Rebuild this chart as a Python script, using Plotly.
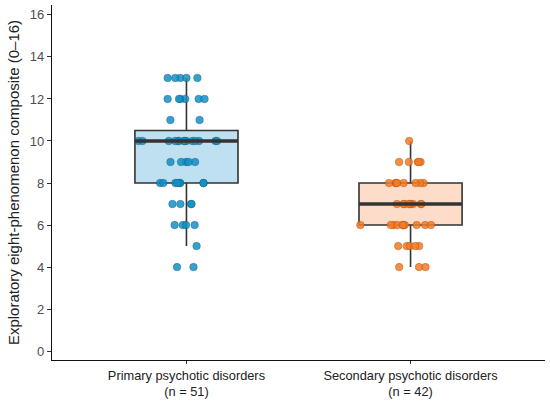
import numpy as np
import plotly.graph_objects as go

# composite scores, as value -> count
groups = ["Primary psychotic disorders", "Secondary psychotic disorders"]
group_n = [51, 42]
primary_scores = [4, 5, 6, 7, 8, 9, 10, 11, 12, 13]
primary_counts = [2, 1, 4, 4, 8, 5, 14, 2, 6, 5]
secondary_scores = [4, 5, 6, 7, 8, 9, 10]
secondary_counts = [3, 5, 11, 9, 8, 5, 1]

y_ticks = [0, 2, 4, 6, 8, 10, 12, 14, 16]

point_colors = ["#1390C6", "#F47C26"]
edge_colors = ["#0B5F85", "#B5520E"]
box_fills = ["#BEE0F0", "#FDDDCA"]

primary = np.repeat(primary_scores, primary_counts)
secondary = np.repeat(secondary_scores, secondary_counts)
data = [primary, secondary]

box_w = 0.46
fig = go.Figure()

for i, vals in enumerate(data):
    # ggplot-style stats (type 7 quantiles, whiskers to 1.5*IQR)
    q1, med, q3 = np.percentile(vals, [25, 50, 75])
    iqr = q3 - q1
    lo = vals[vals >= q1 - 1.5 * iqr].min()
    hi = vals[vals <= q3 + 1.5 * iqr].max()
    fig.add_trace(go.Box(
        x=[i], q1=[q1], median=[med], q3=[q3],
        lowerfence=[lo], upperfence=[hi], width=box_w,
        whiskerwidth=0, boxpoints=False,
        fillcolor=box_fills[i],
        line=dict(color="#333333", width=1.6),
        showlegend=False, hoverinfo="skip"))
    # thicker median line like ggplot
    fig.add_trace(go.Scatter(
        x=[i - box_w / 2, i + box_w / 2], y=[med, med], mode="lines",
        line=dict(color="#333333", width=3.5),
        showlegend=False, hoverinfo="skip"))
    # jittered points on top (invisible box just carries the points)
    fig.add_trace(go.Box(
        y=vals, x=[i] * len(vals), width=0.46,
        boxpoints="all", jitter=1, pointpos=0,
        fillcolor="rgba(0,0,0,0)",
        line=dict(color="rgba(0,0,0,0)", width=0),
        marker=dict(color=point_colors[i], size=7.5, opacity=0.85,
                    line=dict(color=edge_colors[i], width=0.6)),
        showlegend=False))

tick_text = [f"{g}<br>(n = {n})" for g, n in zip(groups, group_n)]

fig.update_layout(
    width=550, height=404,
    margin=dict(l=52, r=5, t=5, b=40),
    plot_bgcolor="white", paper_bgcolor="white",
    font=dict(family="Liberation Sans, Arial, sans-serif", size=12, color="#222222"),
    boxmode="overlay",
)
fig.update_xaxes(
    range=[-0.6, 1.6], tickvals=[0, 1], ticktext=tick_text,
    showline=True, linecolor="#111111", linewidth=1.3,
    ticks="outside", ticklen=3, tickcolor="#333333",
    showgrid=False, zeroline=False, tickfont=dict(size=12.8))
fig.update_yaxes(
    range=[-0.42, 16.47], tickvals=y_ticks,
    showline=True, linecolor="#111111", linewidth=1.3,
    ticks="outside", ticklen=4, tickcolor="#333333",
    showgrid=False, zeroline=False, tickfont=dict(size=13, color="#4d4d4d"),
    title=dict(text="Exploratory eight-phenomenon composite (0\u201316)",
               font=dict(size=15), standoff=6))

# drop the browser's default body margin so the figure sits at 0,0
fig.write_html("out.html", config={"displayModeBar": False},
               post_script="document.body.style.margin='0';")
